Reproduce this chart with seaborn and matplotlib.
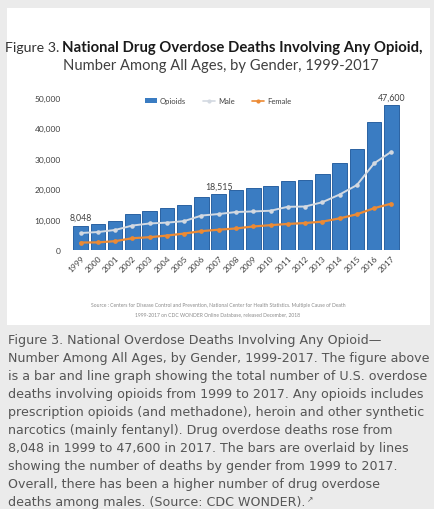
import numpy as np
import pandas as pd
import seaborn as sns
import matplotlib.pyplot as plt
from matplotlib.patches import Rectangle, Patch
from matplotlib.lines import Line2D

# data (any opioid deaths, and split by gender)
years = [str(y) for y in range(1999, 2018)]
opioids = [8048, 8407, 9496, 11920, 12940, 13756, 14918, 17545, 18515, 19582,
           20422, 21089, 22784, 23166, 25052, 28647, 33091, 42249, 47600]
male = [5593, 5902, 6588, 8046, 8730, 9003, 9509, 11330, 11834, 12496,
        12683, 12919, 14212, 14298, 15720, 18243, 21351, 28498, 32337]
female = [2455, 2505, 2908, 3874, 4210, 4753, 5409, 6215, 6681, 7086,
          7739, 8170, 8572, 8868, 9332, 10404, 11740, 13751, 15263]
labelled_years = ["1999", "2007", "2017"]
y_ticks = [0, 10000, 20000, 30000, 40000, 50000]

caption_lines = [
    "Figure 3. National Overdose Deaths Involving Any Opioid\u2014",
    "Number Among All Ages, by Gender, 1999-2017. The figure above",
    "is a bar and line graph showing the total number of U.S. overdose",
    "deaths involving opioids from 1999 to 2017. Any opioids includes",
    "prescription opioids (and methadone), heroin and other synthetic",
    "narcotics (mainly fentanyl). Drug overdose deaths rose from",
    "8,048 in 1999 to 47,600 in 2017. The bars are overlaid by lines",
    "showing the number of deaths by gender from 1999 to 2017.",
    "Overall, there has been a higher number of drug overdose",
    "deaths among males. (Source: CDC WONDER).",
]

df = pd.DataFrame({"year": years, "opioids": opioids, "male": male, "female": female})

sns.set_style("white")
plt.rcParams["font.family"] = ["Lato", "DejaVu Sans"]

W, H = 435, 510
fig = plt.figure(figsize=(W / 100, H / 100), dpi=100)
fig.patch.set_facecolor("#ebebeb")

# white panel holding the chart
fig.add_artist(Rectangle((7 / W, 1 - 326 / H), 423 / W, 317 / H,
                         transform=fig.transFigure, facecolor="white",
                         edgecolor="none", zorder=0))

ax = fig.add_axes([72 / W, 1 - 251 / H, 328 / W, 152 / H])
ax.set_facecolor("white")

bar_c = "#3a7cc2"
male_c = "#d3d9e1"
fem_c = "#ec8a34"

sns.barplot(data=df, x="year", y="opioids", color=bar_c, width=0.84,
            edgecolor="#2a62a2", linewidth=0.7, saturation=1, ax=ax)
sns.pointplot(data=df, x="year", y="male", color=male_c, markers="o",
              markersize=2.2, linewidth=1.4, ax=ax)
sns.pointplot(data=df, x="year", y="female", color=fem_c, markers="o",
              markersize=2.2, linewidth=1.6, ax=ax)

for i, (yr, v) in enumerate(zip(years, opioids)):
    if yr in labelled_years:
        ax.annotate(f"{v:,}", (i, v), xytext=(0, 2.5), textcoords="offset points",
                    ha="center", va="bottom", fontsize=6.3, color="#404040")

ax.set_ylim(0, 50000)
ax.set_xlim(-0.5, len(years) - 0.5)
ax.set_yticks(y_ticks)
ax.set_yticklabels([f"{t:,}" for t in y_ticks], fontsize=6, color="#404040")
ax.tick_params(axis="y", length=0, pad=8)
ax.tick_params(axis="x", length=0, pad=3)
plt.setp(ax.get_xticklabels(), rotation=45, ha="right", rotation_mode="anchor",
         fontsize=6, color="#404040")
ax.set_xlabel("")
ax.set_ylabel("")
sns.despine(ax=ax, left=True, bottom=True)

handles = [Patch(facecolor=bar_c, edgecolor="none"),
           Line2D([], [], color=male_c, marker="o", markersize=2, lw=1.2),
           Line2D([], [], color=fem_c, marker="o", markersize=2, lw=1.2)]
fig.legend(handles, ["Opioids", "Male", "Female"], loc="center",
           bbox_to_anchor=(218 / W, 1 - 102 / H), ncol=3, frameon=False,
           fontsize=5.5, handlelength=1.6, handleheight=0.6, columnspacing=2.2,
           handletextpad=0.4, labelcolor="#404040")

# title
fig.text(59 / W, 1 - 48 / H, "Figure 3.", ha="right", va="center",
         fontsize=10.2, color="#333333")
fig.text(62 / W, 1 - 48 / H, "National Drug Overdose Deaths Involving Any Opioid,",
         ha="left", va="center", fontsize=10.7, fontweight="bold", color="#1a1a1a")
fig.text(221 / W, 1 - 66 / H, "Number Among All Ages, by Gender, 1999-2017",
         ha="center", va="center", fontsize=10.6, color="#404040")

# source note
fig.text(218 / W, 1 - 306 / H,
         "Source : Centers for Disease Control and Prevention, National Center for Health Statistics. Multiple Cause of Death",
         ha="center", va="center", fontsize=3.6, color="#8a8a8a")
fig.text(218 / W, 1 - 315 / H,
         "1999-2017 on CDC WONDER Online Database, released December, 2018",
         ha="center", va="center", fontsize=3.6, color="#8a8a8a")

# caption below the figure
last = None
for k, line in enumerate(caption_lines):
    last = fig.text(8 / W, 1 - (341 + 17.9 * k) / H, line, ha="left", va="center",
                    fontsize=9.1, color="#555555", family=["DejaVu Sans"])

# small link icon after the last caption line
fig.canvas.draw()
bb = last.get_window_extent(fig.canvas.get_renderer())
fig.text(bb.x1 / W + 1.5 / W, 1 - 500 / H, "\u2197", ha="left", va="center",
         fontsize=5.5, color="#555555", family=["DejaVu Sans"])

fig.savefig("out.png", dpi=100, facecolor=fig.get_facecolor())
